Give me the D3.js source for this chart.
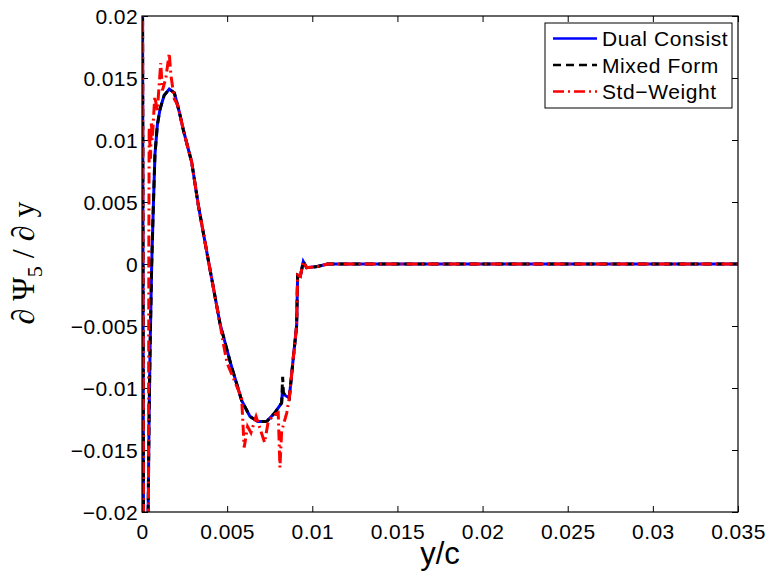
<!DOCTYPE html>
<html><head><meta charset="utf-8">
<script src="https://cdn.jsdelivr.net/npm/d3@7"></script>
<style>body{margin:0;background:#fff}svg{display:block}</style>
</head><body>
<svg id="c" width="772" height="580"></svg>
<script>
const xTicks = [0,0.005,0.01,0.015,0.02,0.025,0.03,0.035];
const xTickLabels = ["0","0.005","0.01","0.015","0.02","0.025","0.03","0.035"];
const yTicks = [-0.02,-0.015,-0.01,-0.005,0,0.005,0.01,0.015,0.02];
const yTickLabels = ["\u22120.02","\u22120.015","\u22120.01","\u22120.005","0","0.005","0.01","0.015","0.02"];
const seriesNames = ["Dual Consist","Mixed Form","Std\u2212Weight"];

const dualX = [0,0.0001,0.0003,0.00042,0.00048,0.00057,0.00066,0.00076,0.0009,0.00106,0.0013,0.0016,0.0019,0.0022,0.00243,0.00292,0.0033,0.0038,0.00458,0.0052,0.00585,0.00634,0.0068,0.00732,0.0078,0.0082,0.00826,0.0083,0.00865,0.00889,0.00908,0.00914,0.0093,0.00947,0.00967,0.0103,0.0109,0.012,0.035];
const dualY = [0.045,-0.03,-0.028,-0.012,-0.0064,0,0.0044,0.0088,0.0112,0.0125,0.0136,0.0141,0.0138,0.0122,0.0108,0.0082,0.0048,0.001,-0.0048,-0.008,-0.011,-0.0123,-0.0127,-0.0127,-0.012,-0.0112,-0.01,-0.0105,-0.0108,-0.0075,-0.005,-0.0009,-0.001,0.0002,-0.0003,-0.0002,0,0,0];
const mixedX = dualX;
const mixedY = [0.045,-0.03,-0.028,-0.012,-0.0064,0,0.0044,0.0088,0.0112,0.0125,0.0136,0.0141,0.0138,0.0122,0.0108,0.0082,0.0048,0.001,-0.0048,-0.008,-0.011,-0.0123,-0.0127,-0.0127,-0.012,-0.0112,-0.0091,-0.0104,-0.0108,-0.0075,-0.005,-0.0009,-0.001,0.0002,-0.0003,-0.0002,0,0,0];
const stdX = [0,0.0001,0.0003,0.00038,0.0004,0.00042,0.0005,0.00055,0.0006,0.00075,0.0009,0.0011,0.0012,0.0014,0.0016,0.0017,0.0019,0.0021,0.0022,0.00243,0.00292,0.0033,0.0038,0.00458,0.0048,0.005,0.00585,0.006,0.0062,0.0064,0.0067,0.0072,0.0074,0.0077,0.008,0.0081,0.0082,0.0085,0.00865,0.00889,0.00908,0.00914,0.0093,0.00947,0.00967,0.0103,0.0109,0.012,0.035];
const stdY = [0.045,-0.03,-0.03,-0.02,0,0.011,0.0085,0.0115,0.01,0.0135,0.0124,0.0162,0.014,0.015,0.017,0.0152,0.0133,0.0128,0.0122,0.0108,0.0082,0.0048,0.001,-0.0048,-0.0066,-0.008,-0.0108,-0.0148,-0.0131,-0.0136,-0.0123,-0.0144,-0.0128,-0.0122,-0.012,-0.0164,-0.0135,-0.012,-0.0108,-0.0075,-0.005,-0.0009,-0.001,0.0002,-0.0003,-0.0002,0,0,0];

const L=142, R=738, T=16, B=512;
const svg = d3.select("#c");
const x = d3.scaleLinear().domain([0,0.035]).range([L,R]);
const y = d3.scaleLinear().domain([-0.02,0.02]).range([B,T]);

svg.append("defs").append("clipPath").attr("id","clip")
  .append("rect").attr("x",L).attr("y",T).attr("width",R-L).attr("height",B-T);

const font = "Liberation Sans, Arial, Helvetica, sans-serif";
const tickLen = 6;

const gx = svg.append("g").attr("transform",`translate(0,${B})`)
  .call(d3.axisBottom(x).tickValues(xTicks).tickFormat((d,i)=>xTickLabels[i]).tickSizeInner(-tickLen).tickSizeOuter(0).tickPadding(12));
const gxt = svg.append("g").attr("transform",`translate(0,${T})`)
  .call(d3.axisTop(x).tickValues(xTicks).tickFormat("").tickSizeInner(-tickLen).tickSizeOuter(0));
const gy = svg.append("g").attr("transform",`translate(${L},0)`)
  .call(d3.axisLeft(y).tickValues(yTicks).tickFormat((d,i)=>yTickLabels[i]).tickSizeInner(-tickLen).tickSizeOuter(0).tickPadding(4));
const gyr = svg.append("g").attr("transform",`translate(${R},0)`)
  .call(d3.axisRight(y).tickValues(yTicks).tickFormat("").tickSizeInner(-tickLen).tickSizeOuter(0));
[gx,gxt,gy,gyr].forEach(g=>{
  g.selectAll("path.domain").remove();
  g.selectAll("line").attr("stroke","#000").attr("stroke-width",1);
  g.selectAll("text").attr("font-family",font).attr("font-size",21).attr("fill","#000").attr("letter-spacing","0.4px");
});
gx.selectAll("text").attr("dy","0.71em");
gy.selectAll("text").attr("dy","0.35em");

const line = d3.line().x(d=>x(d[0])).y(d=>y(d[1]));
const plot = svg.append("g").attr("clip-path","url(#clip)");
const series = [
  {xs:dualX, ys:dualY, color:"#0000ff", dash:null},
  {xs:mixedX, ys:mixedY, color:"#000000", dash:"8,5"},
  {xs:stdX, ys:stdY, color:"#ff0000", dash:"11,4,2,4"}
];
series.forEach(s=>{
  plot.append("path").datum(s.xs.map((v,i)=>[v,s.ys[i]]))
    .attr("d",line).attr("fill","none").attr("stroke",s.color)
    .attr("stroke-width",3).attr("stroke-dasharray",s.dash);
});

svg.append("rect").attr("x",L).attr("y",T).attr("width",R-L).attr("height",B-T)
  .attr("fill","none").attr("stroke","#000").attr("stroke-width",1.2);

const lg = svg.append("g");
lg.append("rect").attr("x",545).attr("y",23).attr("width",187).attr("height",85)
  .attr("fill","#fff").attr("stroke","#000").attr("stroke-width",1);
const ly = [38.5,65,91.5];
series.forEach((s,i)=>{
  lg.append("line").attr("x1",553).attr("x2",597).attr("y1",ly[i]).attr("y2",ly[i])
    .attr("stroke",s.color).attr("stroke-width",2.5).attr("stroke-dasharray",s.dash);
  lg.append("text").attr("x",602).attr("y",ly[i]).attr("dy","0.36em")
    .attr("font-family",font).attr("font-size",21).attr("letter-spacing","0.6px").text(seriesNames[i]);
});

svg.append("text").attr("x",440).attr("y",564).attr("text-anchor","middle")
  .attr("font-family",font).attr("font-size",31).text("y/c");

const yl = svg.append("text").attr("transform","translate(34,263) rotate(-90)")
  .attr("text-anchor","middle").attr("font-family","Liberation Serif, Times New Roman, serif").attr("font-size",32);
yl.append("tspan").text("\u2202 \u03A8");
yl.append("tspan").attr("font-size",22).attr("dy",8).text("5");
yl.append("tspan").attr("dy",-8).text(" / \u2202 y");
</script>
</body></html>
